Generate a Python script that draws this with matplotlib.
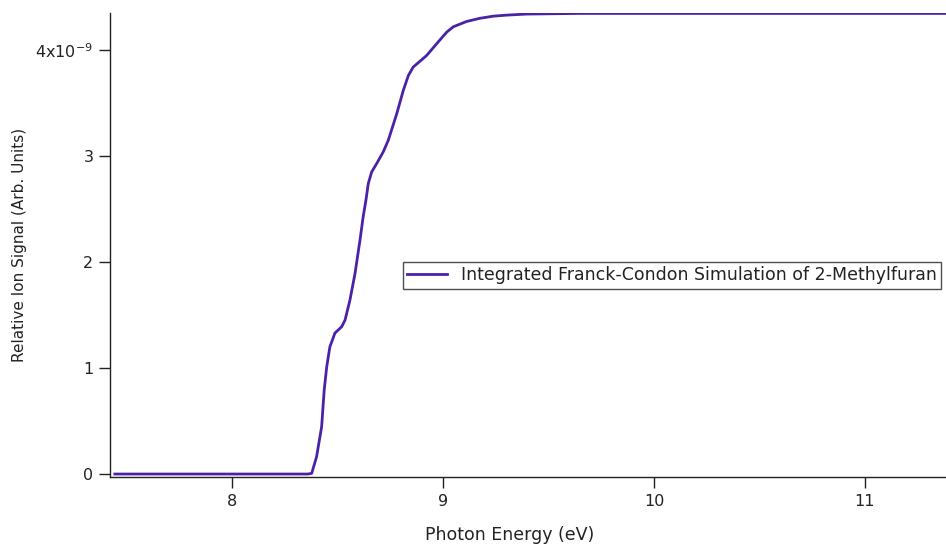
import matplotlib
matplotlib.use("Agg")
import matplotlib.pyplot as plt
import numpy as np

# Integrated Franck-Condon simulation (signal in units of 1e-9)
photon_energy_ev = [7.445, 8.360, 8.378, 8.401, 8.425, 8.437, 8.449, 8.464, 8.488,
                    8.520, 8.536, 8.559, 8.583, 8.607, 8.622, 8.635, 8.646, 8.662,
                    8.686, 8.717, 8.741, 8.781, 8.812, 8.836, 8.859, 8.923, 8.970,
                    9.018, 9.049, 9.112, 9.175, 9.238, 9.302, 9.397, 9.649, 11.40]
signal_e9 = [0.0, 0.0, 0.007, 0.163, 0.446, 0.79, 1.01, 1.20, 1.33,
             1.39, 1.453, 1.64, 1.89, 2.21, 2.43, 2.585, 2.74, 2.85,
             2.93, 3.04, 3.15, 3.40, 3.62, 3.76, 3.84, 3.95, 4.06,
             4.17, 4.22, 4.27, 4.30, 4.32, 4.33, 4.34, 4.346, 4.346]

x_ticks = [8, 9, 10, 11]
y_ticks_e9 = [0, 1, 2, 3, 4]
y_tick_labels = ["0", "1", "2", "3", r"4x10$^{\mathregular{-9}}$"]

series_label = "Integrated Franck-Condon Simulation of 2-Methylfuran"
line_color = "#4a22a8"
ink = "#222222"

plt.rcParams["font.family"] = ["DejaVu Sans"]

fig = plt.figure(figsize=(9.46, 5.44), dpi=100)
ax = fig.add_axes([110 / 946, 67 / 544, 836 / 946, 464 / 544])

x = np.array(photon_energy_ev)
y = np.array(signal_e9) * 1e-9
ax.plot(x, y, color=line_color, lw=2.0, label=series_label)

ax.set_xlim(7.422, 11.384)
ax.set_ylim(-0.028e-9, 4.35e-9)

ax.set_xticks(x_ticks)
ax.set_xticklabels([str(t) for t in x_ticks])
ax.set_yticks([v * 1e-9 for v in y_ticks_e9])
ax.set_yticklabels(y_tick_labels)
ax.tick_params(axis="both", direction="out", length=8, width=1.0,
               labelsize=11.5, colors=ink, pad=4)

for side in ("top", "right"):
    ax.spines[side].set_visible(False)
for side in ("left", "bottom"):
    ax.spines[side].set_linewidth(1.0)
    ax.spines[side].set_color(ink)

ax.set_xlabel("Photon Energy (eV)", fontsize=12.5, color=ink)
ax.xaxis.set_label_coords((510 - 110) / 836, -0.106)
ax.set_ylabel("Relative Ion Signal (Arb. Units)", fontsize=11, color=ink)
ax.yaxis.set_label_coords(-0.099, 0.5)

leg = ax.legend(loc="upper left", bbox_to_anchor=((403 - 110) / 836, (477 - 262) / 464),
                fontsize=12.5, frameon=True, fancybox=False, borderaxespad=0,
                handlelength=2.3, borderpad=0.25, handletextpad=0.8, labelcolor=ink)
leg.get_frame().set_edgecolor(ink)
leg.get_frame().set_linewidth(1.0)

fig.savefig("out.png", dpi=100)
